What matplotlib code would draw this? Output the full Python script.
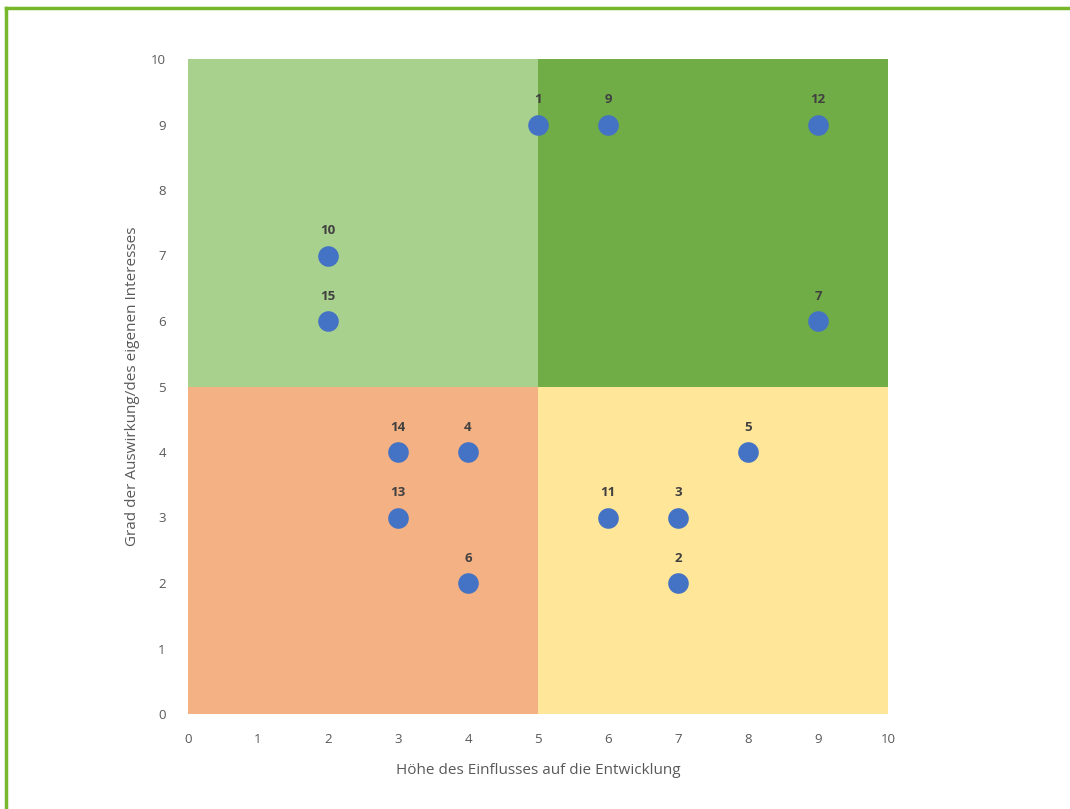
import numpy as np
import matplotlib.pyplot as plt
from matplotlib.patches import Rectangle
from matplotlib.lines import Line2D

# stakeholder data
ids = ['1', '9', '12', '10', '15', '7', '5', '14', '4', '13', '11', '3', '6', '2']
einfluss = [5, 6, 9, 2, 2, 9, 8, 3, 4, 3, 6, 7, 4, 7]
interesse = [9, 9, 9, 7, 6, 6, 4, 4, 4, 3, 3, 3, 2, 2]
ticks = list(range(0, 11))

plt.rcParams['font.family'] = ['Open Sans', 'DejaVu Sans']

fig = plt.figure(figsize=(10.7, 8.09), dpi=100)
ax = fig.add_axes([188/1070, 1 - 714/809, 700/1070, 655/809])

# quadrants
ax.add_patch(Rectangle((0, 0), 5, 5, color='#f4b183', zorder=0, lw=0))
ax.add_patch(Rectangle((5, 0), 5, 5, color='#ffe699', zorder=0, lw=0))
ax.add_patch(Rectangle((0, 5), 5, 5, color='#a9d18e', zorder=0, lw=0))
ax.add_patch(Rectangle((5, 5), 5, 5, color='#70ad47', zorder=0, lw=0))

ax.scatter(einfluss, interesse, s=220, color='#4472c4', zorder=3, linewidths=0)
for lbl, x, y in zip(ids, einfluss, interesse):
    ax.annotate(lbl, (x, y), xytext=(0, 13), textcoords='offset points',
                ha='center', va='bottom', fontsize=9.5, fontweight='bold', color='#404040')

ax.set_xlim(0, 10)
ax.set_ylim(0, 10)
ax.set_xticks(ticks)
ax.set_yticks(ticks)
ax.tick_params(length=0, labelsize=9.5, labelcolor='#595959', pad=14)
ax.tick_params(axis='y', pad=16)
for s in ax.spines.values():
    s.set_visible(False)

ax.set_xlabel('Höhe des Einflusses auf die Entwicklung', fontsize=11, color='#595959', labelpad=12)
ax.set_ylabel('Grad der Auswirkung/des eigenen Interesses', fontsize=11, color='#595959', labelpad=8)

# green frame top and left
fig.add_artist(Line2D([6/1070, 1], [1 - 8/809, 1 - 8/809], color='#76b82a', lw=2.5))
fig.add_artist(Line2D([6/1070, 6/1070], [0, 1 - 8/809], color='#76b82a', lw=2.5))

fig.savefig('out.png', dpi=100)
